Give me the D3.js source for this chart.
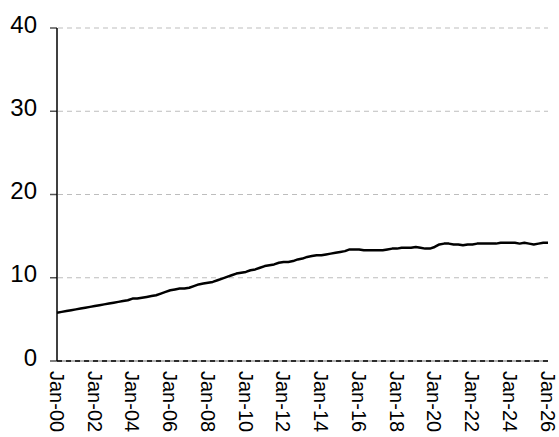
<!DOCTYPE html>
<meta charset="utf-8">
<style>
body { margin: 0; background: #fff; }
.grid line { stroke: #bdbdbd; stroke-dasharray: 5,4; }
.ylab text, .xlab text { font-family: "Liberation Sans", Arial, sans-serif; fill: #000; }
</style>
<body>
<div id="chart"></div>
<script src="https://d3js.org/d3.v7.min.js"></script>
<script>

// quarterly values, starting Jan 2000
var startDate = new Date(2000, 0, 1);
var values = [
  5.8, 5.9, 6.0, 6.1,
  6.2, 6.3, 6.4, 6.5,
  6.6, 6.7, 6.8, 6.9,
  7.0, 7.1, 7.2, 7.3,
  7.5, 7.5, 7.6, 7.7,
  7.8, 7.9, 8.1, 8.3,
  8.5, 8.6, 8.7, 8.7,
  8.8, 9.0, 9.2, 9.3,
  9.4, 9.5, 9.7, 9.9,
  10.1, 10.3, 10.5, 10.6,
  10.7, 10.9, 11.0, 11.2,
  11.4, 11.5, 11.6, 11.8,
  11.9, 11.9, 12.0, 12.2,
  12.3, 12.5, 12.6, 12.7,
  12.7, 12.8, 12.9, 13.0,
  13.1, 13.2, 13.4, 13.4,
  13.4, 13.3, 13.3, 13.3,
  13.3, 13.3, 13.4, 13.5,
  13.5, 13.6, 13.6, 13.6,
  13.7, 13.6, 13.5, 13.5,
  13.7, 14.0, 14.1, 14.1,
  14.0, 14.0, 13.9, 14.0,
  14.0, 14.1, 14.1, 14.1,
  14.1, 14.1, 14.2, 14.2,
  14.2, 14.2, 14.1, 14.2,
  14.1, 14.0, 14.1, 14.2,
  14.2
];
var yTicks = [0, 10, 20, 30, 40];
var xTickYears = [2000, 2002, 2004, 2006, 2008, 2010, 2012, 2014, 2016, 2018, 2020, 2022, 2024, 2026];

var W = 559, H = 437;
var margin = {top: 28, right: 11, bottom: 76, left: 57},
    width = W - margin.left - margin.right,
    height = H - margin.top - margin.bottom;

var data = values.map(function(v, i) {
  return {date: d3.timeMonth.offset(startDate, i * 3), value: v};
});

var x = d3.scaleTime()
    .domain([startDate, new Date(2026, 0, 1)])
    .range([0, width]);
var y = d3.scaleLinear()
    .domain([0, 40])
    .range([height, 0]);

var svg = d3.select("#chart").append("svg")
    .attr("width", W)
    .attr("height", H)
  .append("g")
    .attr("transform", "translate(" + margin.left + "," + margin.top + ")");

// gridlines
svg.append("g").attr("class", "grid")
  .selectAll("line")
  .data(yTicks.filter(function(d) { return d > 0; }))
  .enter().append("line")
    .attr("x1", 1).attr("x2", width)
    .attr("y1", function(d) { return y(d); })
    .attr("y2", function(d) { return y(d); });

// y axis ticks and labels
var yl = svg.append("g").attr("class", "ylab");
yl.selectAll("line")
  .data(yTicks)
  .enter().append("line")
    .attr("x1", -7).attr("x2", 0)
    .attr("y1", function(d) { return y(d); })
    .attr("y2", function(d) { return y(d); })
    .style("stroke", "#555").style("stroke-width", 1.5);
yl.selectAll("text")
  .data(yTicks)
  .enter().append("text")
    .attr("x", -20)
    .attr("y", function(d) { return y(d) - 4; })
    .attr("dy", "0.36em")
    .attr("text-anchor", "end")
    .style("font-size", "24px")
    .text(function(d) { return d; });

// zero line
svg.append("line")
    .attr("x1", 0).attr("x2", width)
    .attr("y1", y(0)).attr("y2", y(0))
    .style("stroke", "#9a9a9a").style("stroke-width", 1.5);
svg.append("line")
    .attr("x1", 0).attr("x2", width)
    .attr("y1", y(0)).attr("y2", y(0))
    .style("stroke", "#000").style("stroke-width", 1.5)
    .style("stroke-dasharray", "5,4");

// vertical axis line
svg.append("line")
    .attr("x1", 0).attr("x2", 0)
    .attr("y1", y(40)).attr("y2", y(0))
    .style("stroke", "#000").style("stroke-width", 1.5);

// x labels, rotated
var fmt = d3.timeFormat("Jan-%y");
svg.append("g").attr("class", "xlab")
  .selectAll("text")
  .data(xTickYears)
  .enter().append("text")
    .attr("transform", function(d) {
      return "translate(" + x(new Date(d, 0, 1)) + "," + (height + 10) + ") rotate(90)";
    })
    .attr("dy", "0.36em")
    .attr("text-anchor", "start")
    .style("font-size", "20px")
    .text(function(d) { return fmt(new Date(d, 0, 1)); });

// series line
svg.append("path")
    .datum(data)
    .attr("fill", "none")
    .attr("stroke", "#000")
    .attr("stroke-width", 2.5)
    .attr("stroke-linejoin", "round")
    .attr("d", d3.line()
      .x(function(d) { return x(d.date); })
      .y(function(d) { return y(d.value); }));

</script>
</body>
